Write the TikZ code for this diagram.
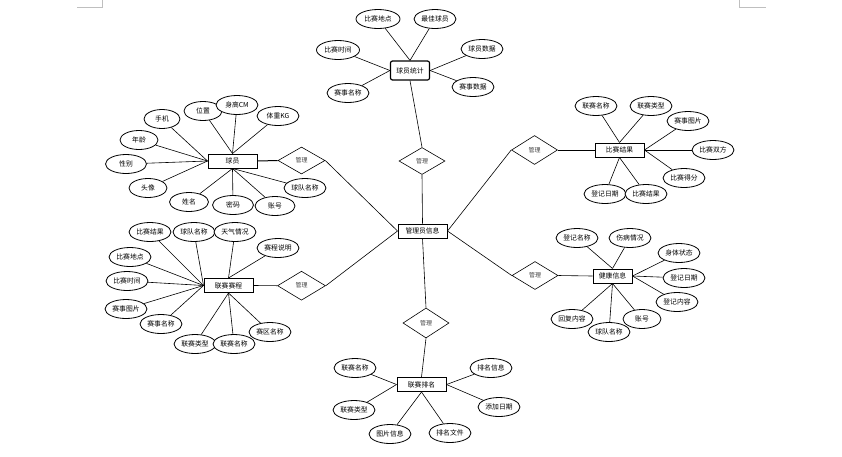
\documentclass[tikz,border=0pt]{standalone}
\usepackage{fontspec}
\newfontfamily\cjk{Noto Sans CJK SC}
\usetikzlibrary{shapes.geometric}
\begin{document}
\begin{tikzpicture}[x=1pt,y=-1pt,
  every node/.style={font=\cjk\fontsize{6.8}{8}\selectfont, inner sep=1pt},
  attr/.style={ellipse, draw, line width=0.8pt, minimum width=42pt, minimum height=19pt, inner xsep=0pt, fill=white},
  sattr/.style={attr, minimum width=38pt},
  ent/.style={rectangle, draw, line width=1pt, minimum width=49pt, minimum height=14pt, fill=white},
  rel/.style={diamond, draw, line width=0.6pt, minimum width=46pt, minimum height=28pt, fill=white,
    font=\cjk\fontsize{6}{7}\selectfont, text=black!75},
  conn/.style={draw, line width=0.6pt},
  cornermark/.style={draw, gray!50, line width=0.6pt}]
\fill[white] (0,0) rectangle (842,456);
\useasboundingbox (0,0) rectangle (842,456);
\draw[cornermark] (77,7) -- (102,7) -- (102,0);
\draw[cornermark] (739,0) -- (739,7) -- (766,7);

% center
\node[ent, rounded corners=2pt, minimum width=39pt, minimum height=19pt, line width=1.2pt] (tj) at (410,70.5) {球员统计};
\node[rel, minimum height=27pt] (r1) at (422,161) {管理};
\node[ent] (gly) at (422.5,231) {管理员信息};
\node[rel, minimum height=30pt] (r2) at (426,323) {管理};
\node[ent] (pm) at (421.5,384.5) {联赛排名};

% left entities
\node[ent] (qy) at (232.5,161) {球员};
\node[rel, minimum width=47pt, minimum height=27pt] (rq) at (301.5,160.5) {管理};
\node[ent] (sc) at (228.5,285.5) {联赛赛程};
\node[rel, minimum width=48pt, minimum height=29pt] (rs) at (301.5,285.7) {管理};

% right entities
\node[ent] (jg) at (619.5,150) {比赛结果};
\node[rel, minimum height=29pt] (rj) at (534.5,150) {管理};
\node[ent, minimum width=39pt] (jk) at (612.5,276) {健康信息};
\node[rel] (rk) at (535,275.5) {管理};

% 球员统计 attributes
\node[attr, minimum width=44pt] (t1) at (378,19) {比赛地点};
\node[attr] (t2) at (435,19) {最佳球员};
\node[attr, minimum width=43pt] (t3) at (338,50) {比赛时间};
\node[attr] (t4) at (482,49) {球员数据};
\node[attr] (t5) at (348,93) {赛事名称};
\node[attr] (t6) at (473,87) {赛事数据};

% 球员 attributes
\node[sattr, minimum width=36pt] (q1) at (162,119) {手机};
\node[sattr] (q2) at (203,111) {位置};
\node[attr] (q3) at (237,105) {身高CM};
\node[attr] (q4) at (278,116) {体重KG};
\node[sattr] (q5) at (139,140) {年龄};
\node[sattr, minimum width=41pt] (q6) at (126,164) {性别};
\node[sattr] (q7) at (148,188) {头像};
\node[sattr, minimum width=39pt] (q8) at (189,202) {姓名};
\node[sattr, minimum width=41pt] (q9) at (233,205) {密码};
\node[sattr, minimum width=40pt] (q10) at (275,206) {账号};
\node[attr] (q11) at (305,188) {球队名称};

% 联赛赛程 attributes
\node[attr] (s1) at (150,232) {比赛结果};
\node[attr] (s2) at (194,232) {球队名称};
\node[attr] (s3) at (235,232) {天气情况};
\node[attr] (s4) at (278,248) {赛程说明};
\node[attr] (s5) at (130,257) {比赛地点};
\node[attr] (s6) at (127,281) {比赛时间};
\node[attr] (s7) at (126,309) {赛事图片};
\node[attr] (s8) at (161,324) {赛事名称};
\node[attr] (s9) at (195,344) {联赛类型};
\node[attr] (s10) at (234,344) {联赛名称};
\node[attr] (s11) at (270,332) {赛区名称};

% 比赛结果 attributes
\node[attr] (j1) at (596,106) {联赛名称};
\node[attr] (j2) at (651,106) {联赛类型};
\node[attr] (j3) at (688,121) {赛事图片};
\node[attr] (j4) at (713,150) {比赛双方};
\node[attr] (j5) at (684,178) {比赛得分};
\node[attr] (j6) at (605,194) {登记日期};
\node[attr] (j7) at (646,194) {比赛结果};

% 健康信息 attributes
\node[attr] (k1) at (577,238) {登记名称};
\node[attr] (k2) at (630,238) {伤病情况};
\node[attr] (k3) at (679,253) {身体状态};
\node[attr] (k4) at (684,278) {登记日期};
\node[attr] (k5) at (677,302) {登记内容};
\node[attr] (k6) at (572,319) {回复内容};
\node[attr] (k7) at (609,332) {球队名称};
\node[sattr] (k8) at (642,319) {账号};

% 联赛排名 attributes
\node[attr] (p1) at (355,368) {联赛名称};
\node[attr] (p2) at (354,410) {联赛类型};
\node[attr] (p3) at (491,368) {排名信息};
\node[attr] (p4) at (499,407) {添加日期};
\node[attr] (p5) at (390,434) {图片信息};
\node[attr] (p6) at (450,433) {排名文件};

% connectors: relationships
\draw[conn] (tj.south) -- (r1.north);
\draw[conn] (r1.south) -- (gly.north);
\draw[conn] (gly.south) -- (r2.north);
\draw[conn] (r2.south) -- (pm.north);
\draw[conn, line width=1pt] (qy.east) -- (rq.west);
\draw[conn] (rq.east) -- (gly.west);
\draw[conn] (sc.east) -- (rs.west);
\draw[conn] (rs.east) -- (gly.west);
\draw[conn] (jg.west) -- (rj.east);
\draw[conn] (rj.west) -- (gly.east);
\draw[conn] (jk.west) -- (rk.east);
\draw[conn] (rk.west) -- (gly.east);

% connectors: attributes
\foreach \a in {t1,t2} \draw[conn] (\a) -- (tj.north);
\foreach \a in {t3,t5} \draw[conn] (\a) -- (tj.west);
\foreach \a in {t4,t6} \draw[conn] (\a) -- (tj.east);

\foreach \a in {q1,q5,q6,q7} \draw[conn] (\a) -- (qy.west);
\foreach \a in {q2,q3,q4} \draw[conn] (\a) -- (qy.north);
\foreach \a in {q8,q9,q10,q11} \draw[conn] (\a) -- (qy.south);

\foreach \a in {s1,s2,s5,s6,s7,s8} \draw[conn] (\a) -- (sc.west);
\foreach \a in {s3,s4} \draw[conn] (\a) -- (sc.north);
\foreach \a in {s9,s10,s11} \draw[conn] (\a) -- (sc.south);

\foreach \a in {j1,j2} \draw[conn] (\a) -- (jg.north);
\foreach \a in {j3,j4,j5} \draw[conn] (\a) -- (jg.east);
\foreach \a in {j6,j7} \draw[conn] (\a) -- (jg.south);

\foreach \a in {k1,k2} \draw[conn] (\a) -- (jk.north);
\foreach \a in {k3,k4,k5} \draw[conn] (\a) -- (jk.east);
\foreach \a in {k6,k7,k8} \draw[conn] (\a) -- (jk.south);

\foreach \a in {p1,p2} \draw[conn] (\a) -- (pm.west);
\foreach \a in {p3,p4} \draw[conn] (\a) -- (pm.east);
\foreach \a in {p5,p6} \draw[conn] (\a) -- (pm.south);
\end{tikzpicture}
\end{document}
